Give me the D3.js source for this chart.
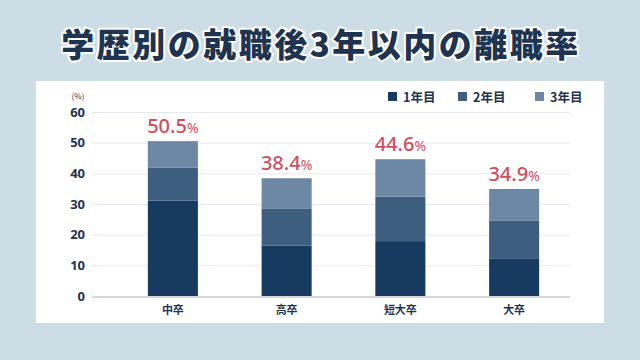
<!DOCTYPE html>
<html>
<head>
<meta charset="utf-8">
<script src="https://cdn.jsdelivr.net/npm/d3@7"></script>
<style>
  html, body { margin: 0; padding: 0; background: #cddde6; }
  svg { display: block; font-family: 'Noto Sans CJK JP', 'Noto Sans', sans-serif; }
</style>
</head>
<body>
<div id="chart"></div>
<script>
const width = 640
const height = 360
const title = '学歴別の就職後3年以内の離職率'
const categories = ['中卒', '高卒', '短大卒', '大卒']
const keys = ['1年目', '2年目', '3年目']
const year1 = [31.1, 16.4, 17.9, 12.1]
const year2 = [10.7, 12.0, 14.5, 12.4]
const year3 = [8.7, 10.0, 12.2, 10.4]
const totals = ['50.5', '38.4', '44.6', '34.9']
const yTicks = [0, 10, 20, 30, 40, 50, 60]
const colors = ['#173a61', '#3e5e80', '#6d88a4']

const rows = categories.map((c, i) => ({
  name: c, '1年目': year1[i], '2年目': year2[i], '3年目': year3[i], total: totals[i]
}))

const panel = { left: 36, top: 81, right: 604, bottom: 323 }
const grid = { left: 92, right: 570 }

const x_scale = d3.scaleBand()
  .domain(categories)
  .range([116, 571])
  .paddingInner(0.56)
  .paddingOuter(0.28)
const y_scale = d3.scaleLinear()
  .domain([0, 60])
  .range([296, 112])
const color_scale = d3.scaleOrdinal().domain(keys).range(colors)

const svg = d3.select('#chart')
  .append('svg')
    .attr('width', width)
    .attr('height', height)

// title
svg.append('text')
  .attr('x', width / 2 + 1)
  .attr('y', 57)
  .attr('text-anchor', 'middle')
  .style('font-size', '33px')
  .style('font-weight', 900)
  .style('letter-spacing', '2.5px')
  .style('fill', '#1e3451')
  .style('stroke', '#ffffff')
  .style('stroke-width', 4)
  .style('stroke-linejoin', 'round')
  .style('paint-order', 'stroke')
  .text(title)

// white panel
svg.append('rect')
  .attr('x', panel.left)
  .attr('y', panel.top)
  .attr('width', panel.right - panel.left)
  .attr('height', panel.bottom - panel.top)
  .attr('fill', '#ffffff')

// gridlines
svg.append('g')
  .selectAll('line')
  .data(yTicks.filter(d => d > 0))
  .enter().append('line')
    .attr('x1', grid.left)
    .attr('x2', grid.right)
    .attr('y1', d => y_scale(d) + 0.5)
    .attr('y2', d => y_scale(d) + 0.5)
    .style('stroke', '#e6eaee')
    .style('stroke-width', 1)

// y axis labels
svg.append('g')
  .attr('transform', 'translate(85,0)')
  .call(d3.axisLeft(y_scale).tickValues(yTicks).tickSize(0).tickPadding(0))
  .call(g => g.select('.domain').remove())
  .call(g => g.selectAll('text')
    .style('font-family', "'Noto Sans', 'Noto Sans CJK JP', sans-serif")
    .style('font-size', '13px')
    .style('font-weight', 700)
    .style('fill', '#1e3451'))

svg.append('text')
  .attr('x', 78)
  .attr('y', 99)
  .attr('text-anchor', 'middle')
  .style('font-size', '8px')
  .style('fill', '#1e3451')
  .text('(%)')

// stacked bars
const series = d3.stack().keys(keys)(rows)
svg.append('g')
  .selectAll('g')
  .data(series)
  .enter().append('g')
    .attr('fill', d => color_scale(d.key))
  .selectAll('rect')
  .data(d => d)
  .enter().append('rect')
    .attr('x', d => x_scale(d.data.name))
    .attr('y', d => y_scale(d[1]))
    .attr('width', x_scale.bandwidth())
    .attr('height', d => y_scale(d[0]) - y_scale(d[1]))

// baseline
svg.append('line')
  .attr('x1', grid.left)
  .attr('x2', grid.right)
  .attr('y1', y_scale(0) + 1)
  .attr('y2', y_scale(0) + 1)
  .style('stroke', '#d3d8dd')
  .style('stroke-width', 2)

// total labels
const labels = svg.append('g')
  .selectAll('text')
  .data(rows)
  .enter().append('text')
    .attr('x', d => x_scale(d.name) + x_scale.bandwidth() / 2)
    .attr('y', d => y_scale(d['1年目'] + d['2年目'] + d['3年目']) - 8)
    .attr('text-anchor', 'middle')
    .style('font-family', "'Noto Sans', sans-serif")
    .style('fill', '#cf4f5e')
labels.append('tspan')
  .style('font-size', '20px')
  .style('font-weight', 500)
  .text(d => d.total)
labels.append('tspan')
  .style('font-size', '14px')
  .text('%')

// x labels
svg.append('g')
  .selectAll('text')
  .data(categories)
  .enter().append('text')
    .attr('x', d => x_scale(d) + x_scale.bandwidth() / 2)
    .attr('y', 314)
    .attr('text-anchor', 'middle')
    .style('font-size', '11px')
    .style('font-weight', 700)
    .style('fill', '#1e3451')
    .text(d => d)

// legend
const legendX = [388, 458, 535]
const legend = svg.append('g')
  .selectAll('g')
  .data(keys)
  .enter().append('g')
    .attr('transform', (d, i) => `translate(${legendX[i]},97)`)
legend.append('rect')
  .attr('x', 0)
  .attr('y', -5)
  .attr('width', 9)
  .attr('height', 9)
  .attr('fill', d => color_scale(d))
legend.append('text')
  .attr('x', 15)
  .attr('y', 4.5)
  .style('font-size', '12.5px')
  .style('font-weight', 700)
  .style('fill', '#1e3451')
  .text(d => d)
</script>
</body>
</html>
